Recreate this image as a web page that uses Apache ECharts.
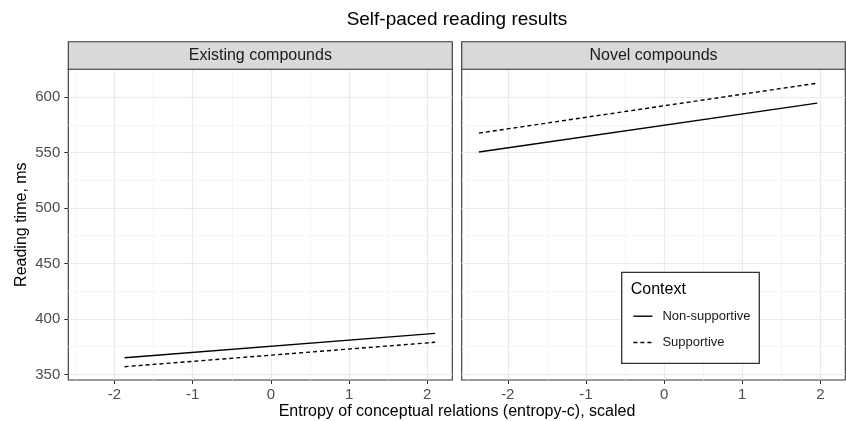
<!DOCTYPE html>
<html><head><meta charset="utf-8">
<script src="https://cdn.jsdelivr.net/npm/echarts@6/dist/echarts.min.js"></script>
<style>html,body{margin:0;padding:0;background:#fff}#c{width:846px;height:421px}</style>
</head><body><div id="c"></div>
<script>
// ---- data ----
const panels = ['Existing compounds', 'Novel compounds'];
const seriesNames = ['Non-supportive', 'Supportive'];
const existingX = [-1.87, 2.1];
const existingNonSupportive = [365, 387];
const existingSupportive = [357, 379];
const novelX = [-2.37, 1.96];
const novelNonSupportive = [550.5, 594.5];
const novelSupportive = [567.5, 612.5];
const xTicks = [-2, -1, 0, 1, 2];
const xMinorTicks = [-2.5, -1.5, -0.5, 0.5, 1.5];
const yTicks = [350, 400, 450, 500, 550, 600];
const yMinorTicks = [375, 425, 475, 525, 575, 625];
const titleText = 'Self-paced reading results';
const xTitle = 'Entropy of conceptual relations (entropy-c), scaled';
const yTitle = 'Reading time, ms';
const legendTitle = 'Context';

// ---- layout ----
const FONT = '"Liberation Sans", Arial, Helvetica, sans-serif';
const X_MIN = -2.59, X_MAX = 2.32, Y_MIN = 345, Y_MAX = 625;
const PTOP = 69.3, PH = 310.7;
const P = [{left: 68.3, width: 384}, {left: 461.7, width: 383.6}];
const STRIP_TOP = 41.7;

const chart = echarts.init(document.getElementById('c'), null, {renderer: 'canvas'});

const grids = P.map(p => ({left: p.left, top: PTOP, width: p.width, height: PH,
  show: true, borderColor: '#333333', borderWidth: 1.1, backgroundColor: '#ffffff', containLabel: false}));

const xAxes = [], yAxes = [];
P.forEach((p, i) => {
  xAxes.push({type: 'value', gridIndex: i, min: X_MIN, max: X_MAX, position: 'bottom',
    axisLine: {show: false, onZero: false},
    axisTick: {show: true, customValues: xTicks, length: 4, lineStyle: {color: '#333333', width: 1}},
    axisLabel: {show: true, customValues: xTicks, color: '#4d4d4d', fontSize: 15, fontFamily: FONT, margin: 7},
    splitLine: {show: true, lineStyle: {color: '#ebebeb', width: 1.2}}});
  yAxes.push({type: 'value', gridIndex: i, min: Y_MIN, max: Y_MAX, position: 'left',
    axisLine: {show: false, onZero: false},
    axisTick: {show: i === 0, customValues: yTicks, length: 4, lineStyle: {color: '#333333', width: 1}},
    axisLabel: {show: i === 0, customValues: yTicks, color: '#4d4d4d', fontSize: 15, fontFamily: FONT, margin: 8},
    splitLine: {show: true, lineStyle: {color: '#ebebeb', width: 1.2}}});
});
P.forEach((p, i) => {
  xAxes.push({type: 'value', gridIndex: i, min: X_MIN, max: X_MAX, position: 'bottom',
    axisLine: {show: false, onZero: false}, axisTick: {show: false, customValues: xMinorTicks},
    axisLabel: {show: false}, splitLine: {show: true, lineStyle: {color: '#f2f2f2', width: 0.8}}});
  yAxes.push({type: 'value', gridIndex: i, min: Y_MIN, max: Y_MAX, position: 'left',
    axisLine: {show: false, onZero: false}, axisTick: {show: false, customValues: yMinorTicks},
    axisLabel: {show: false}, splitLine: {show: true, lineStyle: {color: '#f2f2f2', width: 0.8}}});
});

function pts(xs, ys) { return xs.map((x, k) => [x, ys[k]]); }
const panelData = [
  [pts(existingX, existingNonSupportive), pts(existingX, existingSupportive)],
  [pts(novelX, novelNonSupportive), pts(novelX, novelSupportive)]
];
const lineTypes = ['solid', [4, 3]];
const series = [];
panelData.forEach((pd, i) => {
  pd.forEach((d, s) => {
    series.push({type: 'line', name: seriesNames[s], xAxisIndex: i, yAxisIndex: i, data: d,
      color: '#000000', itemStyle: {color: '#000000'},
      symbol: 'none', showSymbol: false, silent: true, animation: false, z: 3,
      lineStyle: {color: '#000000', width: 1.4, type: lineTypes[s]}});
  });
});

const graphic = [];
P.forEach((p, i) => {
  graphic.push({type: 'rect', z: 5, shape: {x: p.left, y: STRIP_TOP, width: p.width, height: PTOP - STRIP_TOP},
    style: {fill: '#d9d9d9', stroke: '#333333', lineWidth: 1.1}});
  graphic.push({type: 'text', z: 6, x: p.left + p.width / 2, y: (STRIP_TOP + PTOP) / 2,
    style: {text: panels[i], font: '16px ' + FONT, fill: '#1a1a1a', textAlign: 'center', textVerticalAlign: 'middle'}});
});
graphic.push({type: 'text', z: 6, x: 457, y: 20,
  style: {text: titleText, font: '19px ' + FONT, fill: '#000000', textAlign: 'center', textVerticalAlign: 'middle'}});
graphic.push({type: 'text', z: 6, x: 457, y: 412,
  style: {text: xTitle, font: '16px ' + FONT, fill: '#000000', textAlign: 'center', textVerticalAlign: 'middle'}});
graphic.push({type: 'text', z: 6, x: 21.7, y: PTOP + PH / 2, rotation: Math.PI / 2,
  style: {text: yTitle, font: '16px ' + FONT, fill: '#000000', textAlign: 'center', textVerticalAlign: 'middle'}});
graphic.push({type: 'rect', z: 5, shape: {x: 621.7, y: 272.3, width: 137.6, height: 91},
  style: {fill: '#ffffff', stroke: '#333333', lineWidth: 1.3}});
graphic.push({type: 'text', z: 6, x: 630.7, y: 290,
  style: {text: legendTitle, font: '16px ' + FONT, fill: '#000000', textAlign: 'left', textVerticalAlign: 'middle'}});

chart.setOption({
  animation: false,
  backgroundColor: '#ffffff',
  grid: grids, xAxis: xAxes, yAxis: yAxes, series: series, graphic: graphic,
  legend: {data: seriesNames, orient: 'vertical', left: 632.7, top: 309.7, padding: 0,
    itemWidth: 19, itemHeight: 14, itemGap: 13.3, selectedMode: false, z: 10,
    itemStyle: {opacity: 0},
    lineStyle: {color: '#000000', width: 1.4},
    textStyle: {fontSize: 13, color: '#1a1a1a', fontFamily: FONT, padding: [0, 0, 0, 5]}}
});
</script></body></html>
